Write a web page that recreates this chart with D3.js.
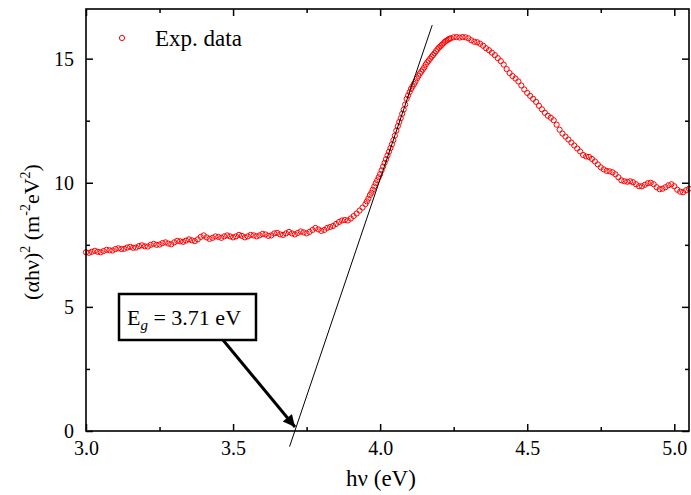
<!DOCTYPE html>
<html><head><meta charset="utf-8">
<script src="https://cdn.jsdelivr.net/npm/d3@7"></script>
</head><body style="margin:0">
<svg id="c" width="691" height="495" style="display:block;background:#fff"></svg>
<script>
// ---- data ----
const expData = [
[3.00,7.20],[3.01,7.18],[3.02,7.22],[3.03,7.26],[3.04,7.22],[3.05,7.20],[3.06,7.25],[3.07,7.30],[3.08,7.28],[3.09,7.27],
[3.10,7.33],[3.11,7.36],[3.12,7.33],[3.13,7.34],[3.14,7.39],[3.15,7.42],[3.16,7.38],[3.17,7.39],[3.18,7.45],[3.19,7.48],
[3.20,7.44],[3.21,7.43],[3.22,7.50],[3.23,7.54],[3.24,7.50],[3.25,7.51],[3.26,7.57],[3.27,7.60],[3.28,7.55],[3.29,7.52],
[3.30,7.60],[3.31,7.66],[3.32,7.64],[3.33,7.62],[3.34,7.67],[3.35,7.72],[3.36,7.68],[3.37,7.65],[3.38,7.72],[3.39,7.82],
[3.40,7.88],[3.41,7.80],[3.42,7.74],[3.43,7.78],[3.44,7.84],[3.45,7.82],[3.46,7.78],[3.47,7.84],[3.48,7.88],[3.49,7.84],
[3.50,7.80],[3.51,7.84],[3.52,7.90],[3.53,7.86],[3.54,7.80],[3.55,7.84],[3.56,7.90],[3.57,7.88],[3.58,7.84],[3.59,7.88],
[3.60,7.94],[3.61,7.92],[3.62,7.86],[3.63,7.88],[3.64,7.96],[3.65,7.98],[3.66,7.92],[3.67,7.90],[3.68,7.96],[3.69,8.02],
[3.70,7.96],[3.71,7.92],[3.72,7.98],[3.73,8.04],[3.74,8.00],[3.75,7.96],[3.76,8.02],[3.77,8.10],[3.78,8.18],[3.79,8.12],
[3.80,8.06],[3.81,8.10],[3.82,8.18],[3.83,8.22],[3.84,8.26],[3.85,8.34],[3.86,8.42],[3.87,8.48],[3.88,8.50],[3.89,8.48],
[3.90,8.56],[3.91,8.66],[3.92,8.76],[3.93,8.88],[3.94,9.00],[3.95,9.14],[3.955,9.25],[3.96,9.36],[3.965,9.50],[3.97,9.60],
[3.975,9.72],[3.98,9.85],[3.985,9.98],[3.99,10.10],[3.995,10.22],[4.00,10.35],[4.005,10.50],[4.01,10.65],[4.015,10.80],[4.02,10.95],
[4.025,11.10],[4.03,11.25],[4.035,11.40],[4.04,11.55],[4.045,11.72],[4.05,11.90],[4.055,12.10],[4.06,12.28],[4.065,12.45],[4.07,12.60],
[4.075,12.78],[4.08,12.95],[4.085,13.15],[4.09,13.38],[4.095,13.52],[4.10,13.65],[4.105,13.78],[4.11,13.88],[4.115,13.98],[4.12,14.08],
[4.125,14.20],[4.13,14.30],[4.135,14.40],[4.14,14.48],[4.145,14.56],[4.15,14.65],[4.155,14.76],[4.16,14.85],[4.165,14.92],[4.17,15.00],
[4.175,15.08],[4.18,15.15],[4.185,15.22],[4.19,15.30],[4.195,15.38],[4.20,15.45],[4.205,15.50],[4.21,15.56],[4.215,15.62],[4.22,15.68],
[4.225,15.72],[4.23,15.76],[4.235,15.80],[4.24,15.82],[4.25,15.86],[4.26,15.87],[4.27,15.85],[4.28,15.87],[4.29,15.86],[4.30,15.82],
[4.31,15.74],[4.32,15.68],[4.33,15.66],[4.34,15.60],[4.35,15.52],[4.36,15.42],[4.37,15.34],[4.38,15.24],[4.39,15.14],[4.40,15.02],
[4.41,14.90],[4.42,14.76],[4.43,14.58],[4.44,14.42],[4.45,14.30],[4.46,14.20],[4.47,14.08],[4.48,13.92],[4.49,13.76],[4.50,13.62],
[4.51,13.50],[4.52,13.38],[4.53,13.26],[4.54,13.10],[4.55,12.96],[4.56,12.82],[4.57,12.70],[4.58,12.62],[4.59,12.52],[4.60,12.34],
[4.61,12.14],[4.62,11.98],[4.63,11.86],[4.64,11.74],[4.65,11.62],[4.66,11.50],[4.67,11.38],[4.68,11.26],[4.69,11.12],[4.70,11.06],
[4.71,11.04],[4.72,10.96],[4.73,10.86],[4.74,10.74],[4.75,10.62],[4.76,10.54],[4.77,10.48],[4.78,10.46],[4.79,10.42],[4.80,10.34],
[4.81,10.22],[4.82,10.10],[4.83,10.06],[4.84,10.04],[4.85,10.06],[4.86,10.02],[4.87,9.94],[4.88,9.86],[4.89,9.86],[4.90,9.92],
[4.91,9.98],[4.92,10.00],[4.93,9.94],[4.94,9.82],[4.95,9.74],[4.96,9.76],[4.97,9.82],[4.98,9.90],[4.99,9.94],[5.00,9.86],
[5.01,9.72],[5.02,9.64],[5.03,9.62],[5.04,9.70],[5.05,9.76]
];
const xTicks = [3.0, 3.5, 4.0, 4.5, 5.0];
const xMinor = [3.25, 3.75, 4.25, 4.75];
const yTicks = [0, 5, 10, 15];
const yMinor = [2.5, 7.5, 12.5];
const tangent = [[3.692, -0.63], [4.177, 16.35]]; // linear fit, Eg = 3.71 eV
const gapLabel = {E: "E", sub: "g", rest: " = 3.71 eV"};
const legendLabel = "Exp. data";

const FONT = '"Liberation Serif", serif';
const serif = sel => sel.style("font-family", FONT, "important");

// ---- layout ----
const svg = d3.select("#c");
const L = 86, R = 689, T = 9, B = 431;
const x = d3.scaleLinear().domain([3.0, 5.05]).range([L, R]);
const y = d3.scaleLinear().domain([0, 17]).range([B, T]);

// data points
svg.append("g").selectAll("circle").data(expData).join("circle")
  .attr("cx", d => x(d[0])).attr("cy", d => y(d[1])).attr("r", 2.6)
  .attr("fill", "none").attr("stroke", "#ff0000").attr("stroke-width", 1);

// tangent line
svg.append("line")
  .attr("x1", x(tangent[0][0])).attr("y1", y(tangent[0][1]))
  .attr("x2", x(tangent[1][0])).attr("y2", y(tangent[1][1]))
  .attr("stroke", "#000").attr("stroke-width", 1);

// axes (inward ticks, all four sides)
function ax(gen, tr, vals, size, labels) {
  const g = svg.append("g").attr("transform", tr)
    .call(gen.tickValues(vals).tickSizeInner(-size).tickSizeOuter(0)
      .tickFormat(labels ? labels : () => ""));
  g.select(".domain").remove();
  g.selectAll("line").attr("stroke", "#000").attr("stroke-width", 1.5);
  g.selectAll("text").attr("fill", "#000").style("font-size", "20px").call(serif);
  return g;
}
const bx = ax(d3.axisBottom(x), `translate(0,${B})`, xTicks, 7, d3.format(".1f"));
bx.selectAll("text").attr("y", 10).attr("dy", "0.71em");
ax(d3.axisBottom(x), `translate(0,${B})`, xMinor, 4);
ax(d3.axisTop(x), `translate(0,${T})`, xTicks, 7);
ax(d3.axisTop(x), `translate(0,${T})`, xMinor, 4);
const ly = ax(d3.axisLeft(y), `translate(${L},0)`, yTicks, 7, d3.format("d"));
ly.selectAll("text").attr("x", -12);
ax(d3.axisLeft(y), `translate(${L},0)`, yMinor, 4);
ax(d3.axisRight(y), `translate(${R},0)`, yTicks, 7);
ax(d3.axisRight(y), `translate(${R},0)`, yMinor, 4);

// frame
svg.append("rect").attr("x", L).attr("y", T).attr("width", R - L).attr("height", B - T)
  .attr("fill", "none").attr("stroke", "#000").attr("stroke-width", 1.6);

// axis titles
svg.append("text").attr("x", 381).attr("y", 486).attr("text-anchor", "middle")
  .style("font-size", "23px").call(serif).text("hν (eV)");
const yt = svg.append("text").attr("transform", "translate(39,232) rotate(-90)")
  .attr("text-anchor", "middle").style("font-size", "22px").call(serif);
yt.append("tspan").text("(αhν)");
yt.append("tspan").attr("dy", -9).style("font-size", "14px").text("2");
yt.append("tspan").attr("dy", 9).text(" (m");
yt.append("tspan").attr("dy", -9).style("font-size", "14px").text("-2");
yt.append("tspan").attr("dy", 9).text("eV");
yt.append("tspan").attr("dy", -9).style("font-size", "14px").text("2");
yt.append("tspan").attr("dy", 9).text(")");
yt.selectAll("tspan").call(serif);

// legend
svg.append("circle").attr("cx", 122).attr("cy", 38).attr("r", 2.6)
  .attr("fill", "none").attr("stroke", "#ff0000").attr("stroke-width", 1);
svg.append("text").attr("x", 155).attr("y", 46).style("font-size", "23px").call(serif).text(legendLabel);

// annotation box + arrow
svg.append("defs").append("marker").attr("id", "ah").attr("viewBox", "0 0 10 10")
  .attr("refX", 10).attr("refY", 5).attr("markerWidth", 5).attr("markerHeight", 4)
  .attr("markerUnits", "strokeWidth").attr("orient", "auto")
  .append("path").attr("d", "M0,0L10,5L0,10Z").attr("fill", "#000");
svg.append("line").attr("x1", 223).attr("y1", 340).attr("x2", 295).attr("y2", 427)
  .attr("stroke", "#000").attr("stroke-width", 3).attr("marker-end", "url(#ah)");
svg.append("rect").attr("x", 119).attr("y", 294).attr("width", 137).attr("height", 46)
  .attr("fill", "#fff").attr("stroke", "#000").attr("stroke-width", 2.5);
const bt = svg.append("text").attr("x", 127).attr("y", 325).style("font-size", "22px").call(serif);
bt.append("tspan").text(gapLabel.E);
bt.append("tspan").attr("dy", 5).style("font-size", "15px").style("font-style", "italic").text(gapLabel.sub);
bt.append("tspan").attr("dy", -5).text(gapLabel.rest);
bt.selectAll("tspan").call(serif);
</script>
</body></html>
